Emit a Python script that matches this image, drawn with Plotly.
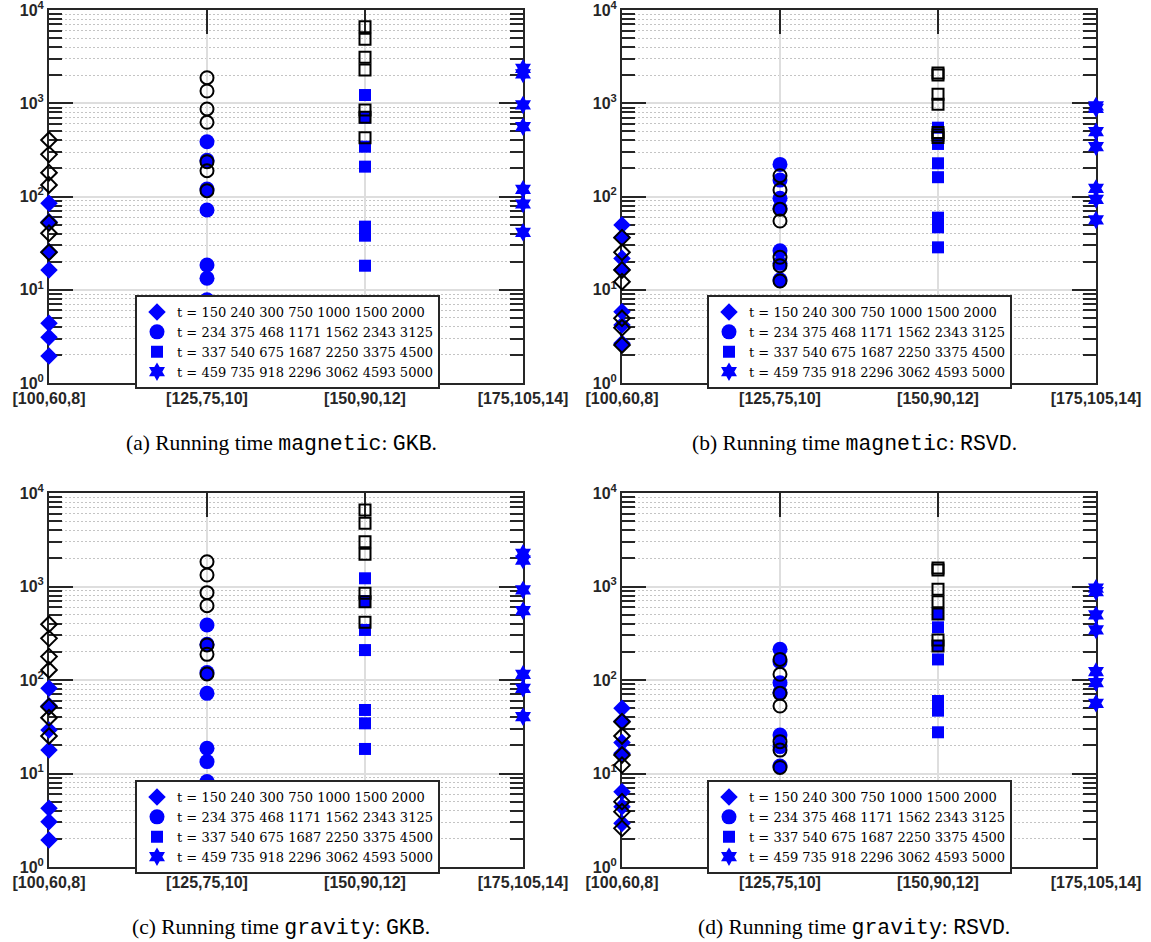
import plotly.graph_objects as go

# Problem sizes on the horizontal axis
CATS = ["[100,60,8]", "[125,75,10]", "[150,90,12]", "[175,105,14]"]

# Legend texts (one per problem size / marker)
T_LABELS = [
    "t = 150 240 300 750 1000 1500 2000",
    "t = 234 375 468 1171 1562 2343 3125",
    "t = 337 540 675 1687 2250 3375 4500",
    "t = 459 735 918 2296 3062 4593 5000",
]

# (a) magnetic, GKB  -- running times in seconds
a_dia_fill = [84.5, 53.5, 25.5, 16.3, 4.37, 3.09, 1.95]
a_dia_open = [403, 283, 180, 133, 52.4, 40.3, 25.2]
a_cir_fill = [387, 245, 120, 71.7, 18.4, 13.3, 7.8]
a_cir_open = [1880, 1353, 868, 625, 236, 189, 115.5]
a_sq_fill = [1225, 700, 342, 209, 47.5, 38, 18.1]
a_sq_open = [6620, 4850, 3110, 2274, 847, 707, 427]
a_hex_fill = [2370, 2060, 958, 561, 119.5, 83.1, 41.3]

# (b) magnetic, RSVD
b_dia_fill = [49.5, 36.5, 21.7, 16.5, 5.82, 4.19, 2.67]
b_dia_open = [36.2, 25.2, 16.3, 12.2, 4.94, 3.92, 2.56]
b_cir_fill = [221, 150, 95.6, 75, 26.2, 19.2, 12.8]
b_cir_open = [167, 117.4, 72.9, 54.6, 22.3, 18.1, 12.4]
b_sq_fill = [547, 366, 227, 161, 59.3, 46.7, 28.5]
b_sq_open = [2110, 2010, 1248, 974, 486, 457, 429]
b_hex_fill = [935, 880, 495, 342, 122, 93, 56]

# (c) gravity, GKB
c_dia_fill = [81.5, 53, 29.2, 17.8, 4.25, 3.05, 1.94]
c_dia_open = [394, 279, 178, 128, 51.8, 39.5, 25.2]
c_cir_fill = [387, 241, 120, 72, 18.6, 13.4, 8.2]
c_cir_open = [1842, 1327, 859, 623, 237, 188, 116]
c_sq_fill = [1224, 700, 343, 209, 47.8, 34.4, 18.3]
c_sq_open = [6580, 4740, 3015, 2208, 846, 688, 414]
c_hex_fill = [2265, 1920, 918, 551, 115, 81.5, 40.5]

# (d) gravity, RSVD
d_dia_fill = [49.8, 36.5, 21.4, 16.5, 6.39, 4.42, 2.93]
d_dia_open = [35.8, 25.2, 15.8, 12.3, 5.0, 3.91, 2.59]
d_cir_fill = [213, 157, 93.6, 74, 25.8, 19.4, 12.0]
d_cir_open = [166, 115, 72, 52.7, 21.9, 17.8, 11.6]
d_sq_fill = [517, 366, 231, 166, 59.6, 47, 27.6]
d_sq_open = [1578, 1501, 933, 688, 508, 268, 231]
d_hex_fill = [960, 880, 496, 343, 123, 93.6, 56.3]

CAPTIONS = [
    ("(a)", "magnetic", "GKB"),
    ("(b)", "magnetic", "RSVD"),
    ("(c)", "gravity", "GKB"),
    ("(d)", "gravity", "RSVD"),
]

PANEL_DATA = [
    (a_dia_fill, a_dia_open, a_cir_fill, a_cir_open, a_sq_fill, a_sq_open, a_hex_fill),
    (b_dia_fill, b_dia_open, b_cir_fill, b_cir_open, b_sq_fill, b_sq_open, b_hex_fill),
    (c_dia_fill, c_dia_open, c_cir_fill, c_cir_open, c_sq_fill, c_sq_open, c_hex_fill),
    (d_dia_fill, d_dia_open, d_cir_fill, d_cir_open, d_sq_fill, d_sq_open, d_hex_fill),
]

W, H = 1151, 942
# plot-area boxes in pixels: left, right, top, bottom
BOXES = [(49, 523, 10, 383), (622, 1096, 10, 383),
         (49, 523, 493, 867), (622, 1096, 493, 867)]
LEGEND_POS = [(135, 295), (707, 295), (135, 780), (707, 780)]

AX = "#262626"
BLUE = "#0000ff"
SYMBOLS = ["diamond", "circle", "square", "hexagram"]
FILL_SIZES = [13.5, 15, 12, 14]
OPEN_SIZES = [12, 13, 11, 13]

fig = go.Figure()

minor_vals = [m * 10 ** e for e in range(0, 4) for m in range(2, 10)]

for p, data in enumerate(PANEL_DATA):
    sfx = "" if p == 0 else str(p + 1)
    xa, ya = "x" + sfx, "y" + sfx
    leg = "legend" + sfx
    dia_f, dia_o, cir_f, cir_o, sq_f, sq_o, hex_f = data
    filled = [dia_f, cir_f, sq_f, hex_f]
    opened = [dia_o, cir_o, sq_o, None]

    # filled blue series (shown in legend)
    for k in range(4):
        fig.add_trace(go.Scatter(
            x=[CATS[k]] * len(filled[k]), y=filled[k], mode="markers",
            xaxis=xa, yaxis=ya, legend=leg, name=T_LABELS[k],
            cliponaxis=False,
            marker=dict(symbol=SYMBOLS[k], size=FILL_SIZES[k], color=BLUE,
                        line=dict(width=0)),
        ))
    # open black series drawn on top
    for k in range(4):
        if opened[k] is None:
            continue
        fig.add_trace(go.Scatter(
            x=[CATS[k]] * len(opened[k]), y=opened[k], mode="markers",
            xaxis=xa, yaxis=ya, showlegend=False, cliponaxis=False,
            marker=dict(symbol=SYMBOLS[k] + "-open", size=OPEN_SIZES[k],
                        color="black", line=dict(width=2, color="black")),
        ))

    l, r, t, b = BOXES[p]
    xdom = [l / W, r / W]
    ydom = [1 - b / H, 1 - t / H]
    common = dict(showline=True, linecolor=AX, linewidth=2, mirror="allticks",
                  ticks="inside", ticklen=24, tickwidth=2, tickcolor=AX,
                  showgrid=True, gridcolor="#dedede", gridwidth=2,
                  zeroline=False, layer="below traces", automargin=False,
                  ticklabeloverflow="allow",
                  tickfont=dict(family="Liberation Sans", size=16,
                                color=AX, weight="bold"))
    fig.layout["xaxis" + sfx] = dict(
        common, domain=xdom, anchor=ya, type="category",
        categoryorder="array", categoryarray=CATS, range=[0, 3],
        tickmode="array", tickvals=CATS,
        ticktext=["<b>%s</b>" % c for c in CATS])
    fig.layout["yaxis" + sfx] = dict(
        common, domain=ydom, anchor=xa, type="log", range=[0, 4],
        tickvals=[1, 10, 100, 1000, 10000],
        ticktext=["<b>10<sup>%d</sup></b>" % e for e in range(5)],
        minor=dict(tickvals=minor_vals, ticks="inside", ticklen=13,
                   tickwidth=2, tickcolor=AX, showgrid=True,
                   gridcolor="#c4c4c4", griddash="2px,2px", gridwidth=1))

    lx, ly = LEGEND_POS[p]
    fig.layout[leg] = dict(
        x=lx / W, y=1 - ly / H, xanchor="left", yanchor="top",
        bgcolor="white", bordercolor=AX, borderwidth=2,
        font=dict(family="DejaVu Serif", size=13, color="black"),
        tracegroupgap=0, itemwidth=30)

    tag, prob, meth = CAPTIONS[p]
    mono = "font-family:'Liberation Mono'"
    fig.add_annotation(
        xref="paper", yref="paper", x=(l + r) / 2 / W - 0.004,
        y=1 - (b + 60) / H, xanchor="center", yanchor="middle",
        showarrow=False,
        text=("%s Running time <span style=\"%s\">%s</span>: "
              "<span style=\"%s\">%s</span>.") % (tag, mono, prob, mono, meth),
        font=dict(family="Liberation Serif", size=21.5, color="black"))

fig.update_layout(width=W, height=H, margin=dict(l=0, r=0, t=0, b=0),
                  paper_bgcolor="white", plot_bgcolor="white")

fig.write_html("out.html")
